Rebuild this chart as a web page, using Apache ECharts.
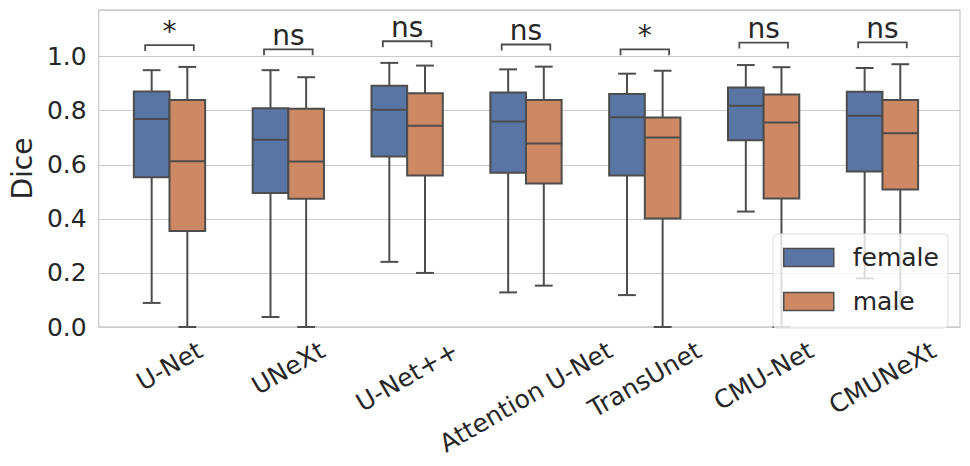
<!DOCTYPE html>
<html>

<head>
  <meta charset="utf-8">
  <title>Dice by sex</title>
  <script src="https://cdn.jsdelivr.net/npm/echarts@6/dist/echarts.min.js"></script>
  <style>
    body { margin: 0; background: #fff; }
    #chart { width: 970px; height: 466px; }
  </style>
</head>

<body>
  <div id="chart"></div>

  <script>
    // models on the x axis
    const models = ['U-Net', 'UNeXt', 'U-Net++', 'Attention U-Net', 'TransUnet', 'CMU-Net', 'CMUNeXt'];
    const groups = ['female', 'male'];

    // [lower whisker, Q1, median, Q3, upper whisker]
    const female = [
      [0.089, 0.554, 0.769, 0.871, 0.950],
      [0.037, 0.496, 0.693, 0.809, 0.950],
      [0.241, 0.631, 0.804, 0.892, 0.977],
      [0.128, 0.571, 0.760, 0.867, 0.953],
      [0.118, 0.560, 0.776, 0.862, 0.937],
      [0.427, 0.691, 0.818, 0.886, 0.969],
      [0.180, 0.575, 0.781, 0.870, 0.958]
    ];
    const male = [
      [0.000, 0.355, 0.613, 0.840, 0.962],
      [0.000, 0.474, 0.612, 0.807, 0.924],
      [0.200, 0.560, 0.744, 0.865, 0.967],
      [0.153, 0.531, 0.679, 0.840, 0.963],
      [0.000, 0.401, 0.701, 0.775, 0.948],
      [0.000, 0.475, 0.756, 0.860, 0.961],
      [0.076, 0.509, 0.717, 0.840, 0.972]
    ];

    // significance brackets
    const sigLabels = ['*', 'ns', 'ns', 'ns', '*', 'ns', 'ns'];
    const bracketY = [1.043, 1.027, 1.057, 1.045, 1.027, 1.052, 1.053];

    const yMin = 0;
    const yMax = 1.1726;
    const yStep = 0.2;

    const font = 'DejaVu Sans';
    const textColor = '#262626';
    const edge = '#4d4d4d';
    const colors = ['#5875a4', '#cc8963'];

    // rotated x labels centred on the tick like matplotlib (ha=center, va=top)
    const labelSize = 25;
    const ctx = document.createElement('canvas').getContext('2d');
    ctx.font = labelSize + 'px "' + font + '"';
    const xData = models.map(m => {
      const w = ctx.measureText(m).width;
      const s = (11.3 + 0.25 * w) / 1.1547;
      return {
        value: m,
        textStyle: {
          align: 'center',
          verticalAlign: 'top',
          padding: [s - labelSize / 2, 1.1547 * s, 0, 0]
        }
      };
    });

    function boxRender(side, color) {
      return function (params, api) {
        const i = api.value(0);
        const band = api.size([1, 0])[0];
        const cx = api.coord([i, 0])[0] + side * 0.15 * band;
        const w = 0.3 * band;
        const y = k => api.coord([i, api.value(k)])[1];
        const lo = y(1), q1 = y(2), md = y(3), q3 = y(4), hi = y(5);
        const ls = { stroke: edge, lineWidth: 2 };
        return {
          type: 'group',
          children: [
            { type: 'line', shape: { x1: cx, y1: q3, x2: cx, y2: hi }, style: ls },
            { type: 'line', shape: { x1: cx, y1: q1, x2: cx, y2: lo }, style: ls },
            { type: 'line', shape: { x1: cx - w / 4, y1: hi, x2: cx + w / 4, y2: hi }, style: ls },
            { type: 'line', shape: { x1: cx - w / 4, y1: lo, x2: cx + w / 4, y2: lo }, style: ls },
            { type: 'rect', shape: { x: cx - w / 2, y: q3, width: w, height: q1 - q3 }, style: { fill: color, stroke: edge, lineWidth: 2 } },
            { type: 'line', shape: { x1: cx - w / 2, y1: md, x2: cx + w / 2, y2: md }, style: ls }
          ]
        };
      };
    }

    function bracketRender(params, api) {
      const i = api.value(0);
      const band = api.size([1, 0])[0];
      const p = api.coord([i, api.value(1)]);
      const half = 0.2045 * band;
      return {
        type: 'group',
        children: [
          {
            type: 'polyline',
            shape: { points: [[p[0] - half, p[1] + 6], [p[0] - half, p[1]], [p[0] + half, p[1]], [p[0] + half, p[1] + 6]] },
            style: { stroke: edge, lineWidth: 1.8, fill: 'none' }
          },
          {
            type: 'text',
            x: p[0],
            y: p[1] - 14,
            style: { text: sigLabels[i], fontFamily: font, fontSize: 28, fill: textColor, align: 'center', verticalAlign: 'middle' }
          }
        ]
      };
    }

    const chart = echarts.init(document.getElementById('chart'), null, { renderer: 'svg' });
    chart.setOption({
      backgroundColor: '#fff',
      animation: false,
      textStyle: { fontFamily: font, color: textColor },
      grid: [
        { left: 93, top: 10, width: 867, height: 317, show: true, borderColor: '#cccccc', borderWidth: 1.3, backgroundColor: '#fff' },
        { left: 110.08, top: 10, width: 831.8, height: 317, show: false }
      ],
      xAxis: [
        { gridIndex: 0, type: 'value', min: 0, max: 1, show: false },
        {
          gridIndex: 1,
          type: 'category',
          data: xData,
          axisLine: { show: false },
          axisTick: { show: false },
          axisLabel: { rotate: 30, margin: 10, fontSize: labelSize, fontFamily: font, color: textColor, interval: 0 }
        }
      ],
      yAxis: [
        {
          gridIndex: 0,
          type: 'value',
          min: yMin,
          max: yMax,
          interval: yStep,
          name: 'Dice',
          nameLocation: 'middle',
          nameGap: 58,
          nameTextStyle: { fontSize: 28, fontFamily: font, color: textColor },
          axisLine: { show: false },
          axisTick: { show: false },
          axisLabel: { fontSize: labelSize, fontFamily: font, color: textColor, margin: 12, showMaxLabel: false, formatter: v => v.toFixed(1) },
          splitLine: { lineStyle: { color: '#cccccc', width: 1.2 } }
        },
        { gridIndex: 1, type: 'value', min: yMin, max: yMax, show: false }
      ],
      legend: {
        orient: 'vertical',
        left: 773,
        top: 234,
        padding: [11, 9, 14, 10],
        itemWidth: 50,
        itemHeight: 18,
        itemGap: 19,
        icon: 'rect',
        backgroundColor: 'rgba(255,255,255,0.8)',
        borderColor: '#dddddd',
        borderWidth: 1,
        borderRadius: 4,
        textStyle: { fontSize: labelSize, fontFamily: font, color: textColor, padding: [0, 0, 0, 14] },
        data: groups.map((g, k) => ({ name: g, itemStyle: { color: colors[k], borderColor: edge, borderWidth: 1.5 } })),
        z: 10
      },
      series: [
        {
          name: 'female',
          type: 'custom',
          xAxisIndex: 1,
          yAxisIndex: 1,
          itemStyle: { color: colors[0] },
          renderItem: boxRender(-1, colors[0]),
          encode: { x: 0, y: [1, 2, 3, 4, 5] },
          data: female.map((d, i) => [i].concat(d))
        },
        {
          name: 'male',
          type: 'custom',
          xAxisIndex: 1,
          yAxisIndex: 1,
          itemStyle: { color: colors[1] },
          renderItem: boxRender(1, colors[1]),
          encode: { x: 0, y: [1, 2, 3, 4, 5] },
          data: male.map((d, i) => [i].concat(d))
        },
        {
          name: 'brackets',
          type: 'custom',
          xAxisIndex: 1,
          yAxisIndex: 1,
          clip: false,
          renderItem: bracketRender,
          encode: { x: 0, y: 1 },
          data: bracketY.map((v, i) => [i, v])
        }
      ]
    });
  </script>
</body>

</html>
